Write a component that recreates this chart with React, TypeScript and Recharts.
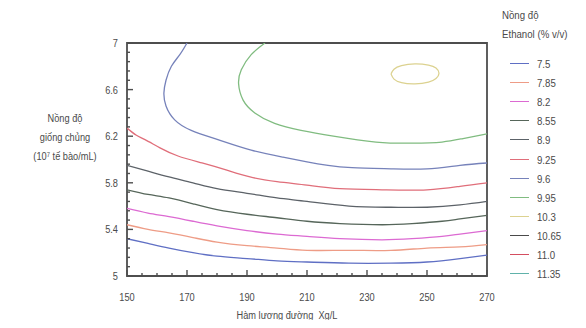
import React from 'react';
import { ComposedChart, Line, XAxis, YAxis, Label, ReferenceArea } from 'recharts';

// ---------- axis ticks ----------
const xTicks = [150, 170, 190, 210, 230, 250, 270];
const xMinorTicks = [150, 155, 160, 165, 170, 175, 180, 185, 190, 195, 200, 205, 210, 215, 220, 225, 230, 235, 240, 245, 250, 255, 260, 265, 270];
const yTicks = [5, 5.4, 5.8, 6.2, 6.6, 7];
const yMinorTicks = [5, 5.08, 5.16, 5.24, 5.32, 5.4, 5.48, 5.56, 5.64, 5.72, 5.8, 5.88, 5.96, 6.04, 6.12, 6.2, 6.28, 6.36, 6.44, 6.52, 6.6, 6.68, 6.76, 6.84, 6.92, 7];

// ---------- titles ----------
const xTitle = 'Hàm lượng đường\u00a0\u00a0Xg/L';
const yTitleLines = ['Nồng độ', 'giống chủng', '(10⁷ tế bào/mL)'];
const legendTitleLines = ['Nồng độ', 'Ethanol (% v/v)'];

// ---------- legend ----------
const legendLevels = ['7.5', '7.85', '8.2', '8.55', '8.9', '9.25', '9.6', '9.95', '10.3', '10.65', '11.0', '11.35'];
const legendColors = ['#5f6fc4', '#ee9c86', '#dc6ad2', '#56665a', '#5c6268', '#e06e7a', '#7682ba', '#80bc80', '#dcd290', '#4a4a4a', '#d44e60', '#60b2aa'];

// ---------- contour lines (sugar g/L, inoculum 10^7 cells/mL) ----------
const c750 = [[150, 5.32], [157, 5.28], [164, 5.24], [172, 5.2], [180, 5.17], [190, 5.15], [200, 5.13], [210, 5.12], [224, 5.11], [238, 5.11], [250, 5.12], [261, 5.15], [270, 5.18]];
const c785 = [[150, 5.44], [157, 5.4], [164, 5.37], [172, 5.33], [180, 5.29], [190, 5.26], [200, 5.24], [210, 5.22], [224, 5.22], [238, 5.22], [250, 5.24], [261, 5.25], [270, 5.27]];
const c820 = [[150, 5.58], [157, 5.54], [164, 5.51], [172, 5.47], [180, 5.43], [190, 5.39], [200, 5.36], [210, 5.34], [221, 5.32], [235, 5.31], [245, 5.32], [255, 5.34], [261, 5.36], [270, 5.39]];
const c855 = [[150, 5.74], [157, 5.7], [164, 5.67], [172, 5.62], [180, 5.57], [190, 5.53], [200, 5.5], [210, 5.47], [221, 5.45], [235, 5.44], [245, 5.45], [255, 5.47], [261, 5.49], [270, 5.52]];
const c890 = [[150, 5.95], [157, 5.9], [164, 5.85], [172, 5.8], [180, 5.75], [190, 5.71], [200, 5.67], [210, 5.64], [224, 5.6], [238, 5.59], [250, 5.59], [261, 5.61], [270, 5.64]];
const c925 = [[150, 6.27], [153, 6.21], [156, 6.17], [161, 6.1], [167, 6.03], [175, 5.97], [183, 5.91], [191, 5.85], [200, 5.81], [210, 5.78], [221, 5.75], [235, 5.74], [250, 5.74], [261, 5.77], [270, 5.8]];
const c960 = [[170, 7.0], [167.6, 6.9], [164.8, 6.8], [163, 6.68], [162.3, 6.57], [163, 6.46], [165.9, 6.34], [171.4, 6.25], [180.3, 6.17], [191.4, 6.08], [202, 6.02], [210, 5.98], [217, 5.95], [225, 5.93], [238, 5.92], [250, 5.92], [261, 5.95], [270, 5.97]];
const c995 = [[196, 7.0], [191.4, 6.9], [188.1, 6.77], [187.2, 6.65], [188.7, 6.51], [192.6, 6.4], [199.2, 6.31], [208, 6.25], [218.8, 6.2], [233, 6.15], [245, 6.14], [255, 6.15], [262, 6.18], [270, 6.22]];
const c1030 = [[238, 6.735], [239, 6.775], [241.5, 6.805], [246, 6.82], [250.5, 6.81], [253, 6.785], [254, 6.74], [253, 6.695], [250.5, 6.665], [246, 6.65], [241.5, 6.66], [239, 6.69], [238, 6.735]];

const contours = [c750, c785, c820, c855, c890, c925, c960, c995, c1030];

const FONT = "'Liberation Sans', Arial, sans-serif";
const TEXT = '#4a4a4a';
const FRAME = '#4e4e4e';
const SX = 0.84; // horizontal squeeze to imitate the narrow chart font

const toPts = (arr: number[][]) => arr.map(([x, y]) => ({ x, y }));

const NarrowText = ({ x, y, anchor, children, size = 11 }: any) => (
  <text transform={`translate(${x},${y}) scale(${SX},1)`} x={0} y={0} textAnchor={anchor}
    fill={TEXT} fontSize={size} fontFamily={FONT} xmlSpace="preserve">{children}</text>
);

const tickPath = (x1: number, y1: number, x2: number, y2: number) => `M${x1},${y1}L${x2},${y2}`;
const TW = 1.4;

const BottomTick = (props: any) => {
  const { x, y, payload } = props;
  const major = xTicks.includes(payload.value);
  return (
    <g>
      <path d={tickPath(x, y, x, y - (major ? 6 : 3))} stroke={FRAME} strokeWidth={TW} fill="none" />
      {major && <NarrowText x={x} y={y + 25} anchor="middle">{payload.value}</NarrowText>}
    </g>
  );
};
const TopTick = (props: any) => {
  const { x, y, payload } = props;
  const major = xTicks.includes(payload.value);
  return <path d={tickPath(x, y, x, y + (major ? 6 : 3))} stroke={FRAME} strokeWidth={TW} fill="none" />;
};
const LeftTick = (props: any) => {
  const { x, y, payload } = props;
  const major = yTicks.includes(payload.value);
  return (
    <g>
      <path d={tickPath(x, y, x + (major ? 6 : 3), y)} stroke={FRAME} strokeWidth={TW} fill="none" />
      {major && <NarrowText x={x - 9} y={y + 4} anchor="end">{payload.value}</NarrowText>}
    </g>
  );
};
const RightTick = (props: any) => {
  const { x, y, payload } = props;
  const major = yTicks.includes(payload.value);
  return <path d={tickPath(x, y, x - (major ? 6 : 3), y)} stroke={FRAME} strokeWidth={TW} fill="none" />;
};

const YTitle = (props: any) => {
  const vb = props.viewBox || { x: 0, y: 43, width: 127, height: 233 };
  const cx = vb.x + 65;
  const y0 = vb.y + 79;
  return (
    <g>
      {yTitleLines.map((t, i) => (
        <NarrowText key={i} x={cx} y={y0 + i * 19} anchor="middle">{t}</NarrowText>
      ))}
    </g>
  );
};

const XTitle = (props: any) => {
  const vb = props.viewBox || { x: 127, y: 276, width: 360, height: 52 };
  return <NarrowText x={vb.x + 160} y={vb.y + 43} anchor="middle">{xTitle}</NarrowText>;
};

const num = { type: 'number' as const, allowDataOverflow: true };

export default function App() {
  return (
    <div style={{ position: 'relative', width: 586, height: 328, margin: -8, background: '#fff', overflow: 'hidden', fontFamily: FONT }}>
      <ComposedChart width={586} height={328} margin={{ top: 43, right: 99, bottom: 0, left: 0 }}>
        <XAxis xAxisId="main" {...num} dataKey="x" domain={[150, 270]} ticks={xMinorTicks} interval={0}
          height={52} tickSize={0} tickMargin={0} tickLine={false} axisLine={false} tick={<BottomTick />}>
          <Label content={<XTitle />} />
        </XAxis>
        <XAxis xAxisId="top" {...num} dataKey="x" orientation="top" height={0} domain={[150, 270]} ticks={xMinorTicks} interval={0}
          tickSize={0} tickMargin={0} tickLine={false} axisLine={false} tick={<TopTick />} />

        <YAxis yAxisId="main" {...num} dataKey="y" domain={[5, 7]} ticks={yMinorTicks} interval={0}
          width={127} tickSize={0} tickMargin={0} tickLine={false} axisLine={false} tick={<LeftTick />}>
          <Label content={<YTitle />} />
        </YAxis>
        <YAxis yAxisId="right" {...num} dataKey="y" orientation="right" width={0} domain={[5, 7]} ticks={yMinorTicks} interval={0}
          tickSize={0} tickMargin={0} tickLine={false} axisLine={false} tick={<RightTick />} />

        <ReferenceArea xAxisId="main" yAxisId="main" x1={150} x2={270} y1={5} y2={7}
          fill="none" fillOpacity={0} stroke={FRAME} strokeWidth={1.8} strokeOpacity={1} ifOverflow="visible" />

        {contours.map((c, i) => {
          const alt = i === 7; // the 9.95 contour is drawn on the twin (top/right) axes, same domain
          return (
            <Line key={i} xAxisId={alt ? 'top' : 'main'} yAxisId={alt ? 'right' : 'main'} data={toPts(c)} dataKey="y" type="natural"
              stroke={legendColors[i]} strokeWidth={1.3} dot={false} activeDot={false}
              isAnimationActive={false} legendType="none" name={legendLevels[i]} />
          );
        })}
      </ComposedChart>

      {/* legend */}
      {legendTitleLines.map((t, i) => (
        <div key={'t' + i} style={{ position: 'absolute', left: 502, top: 15 + i * 19 - 7, height: 14, lineHeight: '14px', fontSize: 11.5, color: TEXT, whiteSpace: 'nowrap', transform: `scaleX(${SX})`, transformOrigin: 'left center' }}>{t}</div>
      ))}
      {legendLevels.map((lv, i) => (
        <React.Fragment key={lv}>
          <div style={{ position: 'absolute', left: 510, width: 19, top: 63 + i * 19.1, height: 0, borderTop: `1.3px solid ${legendColors[i]}` }} />
          <div style={{ position: 'absolute', left: 537, top: 64 + i * 19.1 - 7, height: 14, lineHeight: '14px', fontSize: 11.5, color: TEXT, whiteSpace: 'nowrap', transform: `scaleX(${SX})`, transformOrigin: 'left center' }}>{lv}</div>
        </React.Fragment>
      ))}
    </div>
  );
}
